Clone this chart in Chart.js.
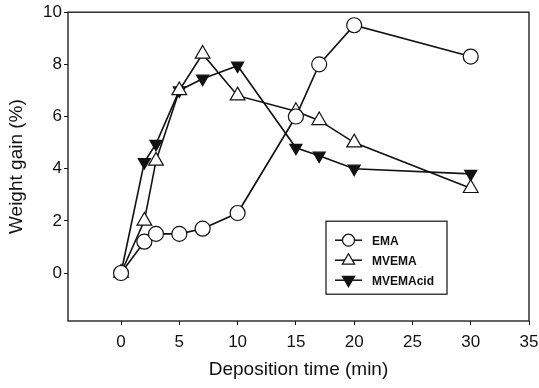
<!DOCTYPE html>
<html>
<head>
<meta charset="utf-8">
<script src="https://cdn.jsdelivr.net/npm/chart.js@4.4.1/dist/chart.umd.min.js"></script>
<style>
  html, body { margin: 0; padding: 0; background: #fff; }
  #wrap { position: relative; width: 539px; height: 388px; }
</style>
</head>
<body>
<div id="wrap"><canvas id="chart"></canvas></div>
<script>
// deposition time (min) and weight gain (%)
const times = [0, 2, 3, 5, 7, 10, 15, 17, 20, 30];
const ema = [0, 1.2, 1.5, 1.5, 1.7, 2.3, 6.0, 8.0, 9.5, 8.3];
const mvema = [0, 2.0, 4.3, 7.0, 8.4, 6.8, 6.2, 5.85, 5.0, 3.25];
const mvemaAcid = [0, 4.25, 4.95, 7.0, 7.45, 7.95, 4.8, 4.5, 4.0, 3.8];
const xTicks = [0, 5, 10, 15, 20, 25, 30, 35];
const yTicks = [0, 2, 4, 6, 8, 10];

const FONT = 'Arial, "Liberation Sans", Helvetica, sans-serif';
const INK = "#111";

const pts = (ys) => times.map((t, i) => ({ x: t, y: ys[i] }));

// frame around plot + legend box inside the plot
const framePlugin = {
  id: "frame",
  beforeDatasetsDraw(chart) {
    const { ctx, chartArea: a } = chart;
    ctx.save();
    ctx.strokeStyle = INK;
    ctx.lineWidth = 1.3;
    ctx.strokeRect(a.left, a.top, a.right - a.left, a.bottom - a.top);
    ctx.restore();
  },
  afterDraw(chart) {
    const { ctx, chartArea: a } = chart;
    const bx = a.left + 258, by = a.top + 209, bw = 121, bh = 73;
    ctx.save();
    ctx.fillStyle = "#fff";
    ctx.fillRect(bx, by, bw, bh);
    ctx.strokeStyle = INK;
    ctx.lineWidth = 1.2;
    ctx.strokeRect(bx, by, bw, bh);
    ctx.font = "bold 12px " + FONT;
    ctx.textBaseline = "middle";
    chart.data.datasets.forEach((ds, i) => {
      const y = by + 19 + i * 20;
      const x0 = bx + 9, x1 = bx + 36, xm = (x0 + x1) / 2;
      ctx.strokeStyle = INK;
      ctx.lineWidth = 1.5;
      ctx.beginPath();
      ctx.moveTo(x0, y);
      ctx.lineTo(x1, y);
      ctx.stroke();
      ctx.fillStyle = ds.pointBackgroundColor;
      ctx.lineWidth = 1.2;
      ctx.beginPath();
      if (ds.pointStyle === "circle") {
        ctx.arc(xm, y, 6, 0, Math.PI * 2);
      } else {
        const r = 6.5, s = ds.pointRotation ? -1 : 1;
        ctx.moveTo(xm, y - s * r);
        ctx.lineTo(xm + r * 0.95, y + s * r * 0.6);
        ctx.lineTo(xm - r * 0.95, y + s * r * 0.6);
        ctx.closePath();
      }
      ctx.fill();
      ctx.stroke();
      ctx.fillStyle = INK;
      ctx.fillText(ds.label, x1 + 10, y + 1);
    });
    ctx.restore();
  },
};

const common = {
  borderColor: INK,
  borderWidth: 1.6,
  pointBorderColor: INK,
  pointBorderWidth: 1.2,
  tension: 0,
};

new Chart(document.getElementById("chart"), {
  type: "line",
  data: {
    datasets: [
      {
        ...common,
        label: "EMA",
        data: pts(ema),
        pointStyle: "circle",
        pointRadius: 7.5,
        pointBackgroundColor: "#fff",
      },
      {
        ...common,
        label: "MVEMA",
        data: pts(mvema),
        pointStyle: "triangle",
        pointRadius: 8.5,
        pointBackgroundColor: "#fff",
      },
      {
        ...common,
        label: "MVEMAcid",
        data: pts(mvemaAcid),
        pointStyle: "triangle",
        pointRotation: 180,
        pointRadius: 7,
        pointBackgroundColor: INK,
      },
    ],
  },
  options: {
    responsive: true,
    maintainAspectRatio: false,
    animation: false,
    layout: { padding: { top: 12, right: 0, left: 0, bottom: 0 } },
    plugins: {
      legend: { display: false },
      tooltip: { enabled: false },
    },
    scales: {
      x: {
        type: "linear",
        min: -4.55,
        max: 35,
        afterBuildTicks: (s) => { s.ticks = xTicks.map((v) => ({ value: v })); },
        afterFit: (s) => { s.height = 67; s.paddingRight = 10; },
        border: { display: false },
        grid: { drawOnChartArea: false, drawTicks: true, tickLength: 4, color: INK, lineWidth: 1 },
        ticks: { color: INK, font: { family: FONT, size: 17 }, padding: 7, maxRotation: 0 },
        title: {
          display: true,
          text: "Deposition time (min)",
          color: INK,
          font: { family: FONT, size: 19 },
          padding: { top: 0, bottom: 7 },
        },
      },
      y: {
        type: "linear",
        min: -1.84,
        max: 10,
        afterBuildTicks: (s) => { s.ticks = yTicks.map((v) => ({ value: v })); },
        afterFit: (s) => { s.width = 68; },
        border: { display: false },
        grid: { drawOnChartArea: false, drawTicks: true, tickLength: 4, color: INK, lineWidth: 1 },
        ticks: { color: INK, font: { family: FONT, size: 17 }, padding: 2 },
        title: {
          display: true,
          text: "Weight gain (%)",
          color: INK,
          font: { family: FONT, size: 19 },
          padding: { top: 5, bottom: 0 },
        },
      },
    },
  },
  plugins: [framePlugin],
});
</script>
</body>
</html>
